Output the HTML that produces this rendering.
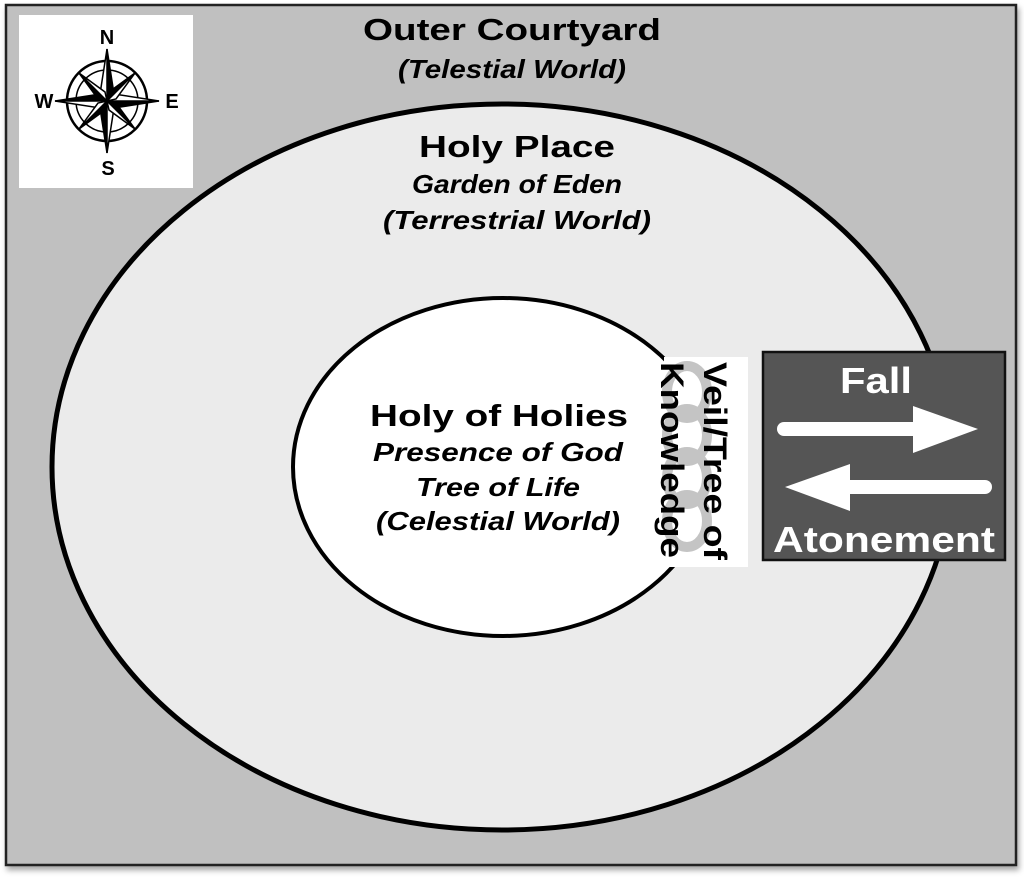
<!DOCTYPE html>
<html><head><style>html,body{margin:0;padding:0;background:#fff;}svg{display:block}</style></head>
<body>
<svg width="1024" height="879" viewBox="0 0 1024 879" xmlns="http://www.w3.org/2000/svg" font-family="Liberation Sans, Arial, sans-serif">
<defs><filter id="sh" x="-5%" y="-5%" width="110%" height="110%"><feDropShadow dx="2" dy="4" stdDeviation="3" flood-color="#000" flood-opacity="0.35"/></filter></defs>
<rect x="6" y="5" width="1010" height="860" fill="#c0c0c0" stroke="#222" stroke-width="2.5" filter="url(#sh)"/>
<rect x="19" y="15" width="174" height="173" fill="#fff"/>
<!-- compass -->
<g transform="translate(107,101)" stroke="#000" stroke-width="1.5">
<circle r="40" fill="none" stroke-width="2.5"/>
<circle r="31" fill="none"/>
<g fill="#000">
<polygon points="0,-52 7,-7 0,0"/><polygon points="0,-52 -7,-7 0,0" fill="#fff"/>
<polygon points="0,52 -7,7 0,0"/><polygon points="0,52 7,7 0,0" fill="#fff"/>
<polygon points="-52,0 -7,-7 0,0"/><polygon points="-52,0 -7,7 0,0" fill="#fff"/>
<polygon points="52,0 7,7 0,0"/><polygon points="52,0 7,-7 0,0" fill="#fff"/>
<polygon points="28,-28 2,-9 0,0"/><polygon points="28,-28 9,-2 0,0" fill="#fff"/>
<polygon points="-28,28 -2,9 0,0"/><polygon points="-28,28 -9,2 0,0" fill="#fff"/>
<polygon points="-28,-28 -9,-2 0,0"/><polygon points="-28,-28 -2,-9 0,0" fill="#fff"/>
<polygon points="28,28 9,2 0,0"/><polygon points="28,28 2,9 0,0" fill="#fff"/>
</g></g>
<g font-weight="bold" font-size="20" text-anchor="middle">
<text x="107" y="44">N</text><text x="108" y="175">S</text><text x="44" y="108">W</text><text x="172" y="108">E</text></g>
<ellipse cx="502" cy="467" rx="450" ry="363" fill="#ebebeb" stroke="#000" stroke-width="5"/>
<ellipse cx="503" cy="467" rx="210" ry="169" fill="#fff" stroke="#000" stroke-width="4"/>
<g text-anchor="middle">
<text x="512" y="40" font-size="31" font-weight="bold" textLength="298" lengthAdjust="spacingAndGlyphs">Outer Courtyard</text>
<text x="512" y="78" font-size="26" font-style="italic" font-weight="bold" textLength="228" lengthAdjust="spacingAndGlyphs">(Telestial World)</text>
<text x="517" y="157" font-size="31" font-weight="bold" textLength="196" lengthAdjust="spacingAndGlyphs">Holy Place</text>
<text x="517" y="193" font-size="26" font-style="italic" font-weight="bold" textLength="210" lengthAdjust="spacingAndGlyphs">Garden of Eden</text>
<text x="517" y="229" font-size="26" font-style="italic" font-weight="bold" textLength="268" lengthAdjust="spacingAndGlyphs">(Terrestrial World)</text>
<text x="499" y="426" font-size="31" font-weight="bold" textLength="258" lengthAdjust="spacingAndGlyphs">Holy of Holies</text>
<text x="498" y="461" font-size="26" font-style="italic" font-weight="bold" textLength="250" lengthAdjust="spacingAndGlyphs">Presence of God</text>
<text x="498" y="496" font-size="26" font-style="italic" font-weight="bold" textLength="164" lengthAdjust="spacingAndGlyphs">Tree of Life</text>
<text x="498" y="530" font-size="26" font-style="italic" font-weight="bold" textLength="244" lengthAdjust="spacingAndGlyphs">(Celestial World)</text>
</g>
<!-- veil -->
<rect x="664" y="357" width="84" height="210" fill="#fff"/>
<g fill="none" stroke="#c4c4c4" stroke-width="10">
<ellipse cx="687" cy="392" rx="20" ry="26"/>
<ellipse cx="687" cy="435" rx="20" ry="26"/>
<ellipse cx="687" cy="478" rx="20" ry="26"/>
<ellipse cx="687" cy="521" rx="20" ry="26"/>
</g>
<g font-size="32" font-weight="bold">
<text transform="translate(704,362) rotate(90)" textLength="198" lengthAdjust="spacingAndGlyphs">Veil/Tree of</text>
<text transform="translate(661,362) rotate(90)" textLength="196" lengthAdjust="spacingAndGlyphs">Knowledge</text>
</g>
<!-- Fall box -->
<rect x="763" y="352" width="242" height="208" fill="#555" stroke="#111" stroke-width="2.5"/>
<g fill="#fff" text-anchor="middle" font-weight="bold">
<text x="876" y="393" font-size="36" textLength="72" lengthAdjust="spacingAndGlyphs">Fall</text>
<text x="884" y="552" font-size="36" textLength="222" lengthAdjust="spacingAndGlyphs">Atonement</text>
</g>
<line x1="784" y1="429" x2="930" y2="429" stroke="#fff" stroke-width="14" stroke-linecap="round"/>
<polygon points="913,406 978,429 913,453" fill="#fff"/>
<line x1="985" y1="487" x2="840" y2="487" stroke="#fff" stroke-width="14" stroke-linecap="round"/>
<polygon points="850,464 785,487 850,511" fill="#fff"/>
</svg>
</body></html>
